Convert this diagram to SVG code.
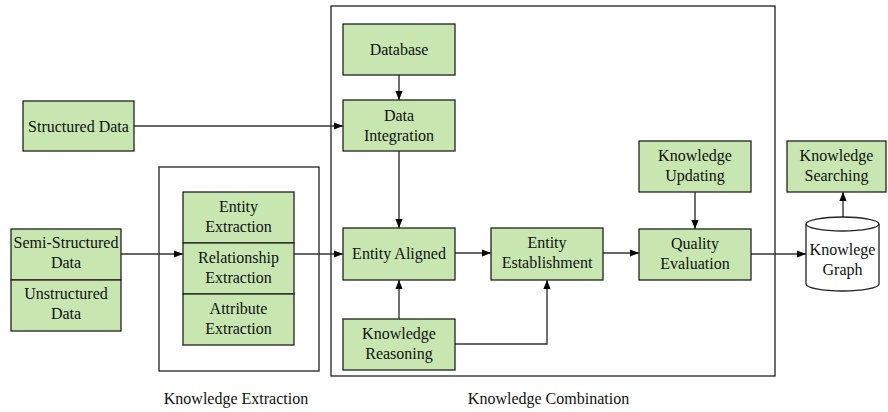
<svg xmlns="http://www.w3.org/2000/svg" width="888" height="412" viewBox="0 0 888 412">
<defs>
<marker id="ah" viewBox="0 0 10 10" refX="10" refY="5" markerWidth="9" markerHeight="9" markerUnits="userSpaceOnUse" orient="auto">
<path d="M0,1 L10,5 L0,9 Z" fill="#000"/>
</marker>
<style>
.box{fill:#c7e6b0;stroke:#222;stroke-width:1.3}
.frame{fill:none;stroke:#222;stroke-width:1.3}
.t{font-family:"Liberation Serif","Times New Roman",serif;font-size:16px;fill:#111;text-anchor:middle}
.c{fill:none;stroke:#333;stroke-width:1.4}
.a{marker-end:url(#ah)}
</style>
</defs>
<rect width="888" height="412" fill="#fff"/>

<g id="frames">
<rect id="extraction-frame" class="frame" x="159" y="167" width="160" height="204"/>
<rect id="combination-frame" class="frame" x="331" y="6" width="444" height="370"/>
</g>

<g id="connectors">
<path class="c a" d="M134,126 H343"/>
<path class="c a" d="M121,254 H183"/>
<path class="c a" d="M294,254 H343"/>
<path class="c a" d="M399,75 V100"/>
<path class="c a" d="M399,151 V228"/>
<path class="c a" d="M399,319 V280"/>
<path class="c a" d="M455,344 H547 V280"/>
<path class="c a" d="M455,253 H491"/>
<path class="c a" d="M603,253 H639"/>
<path class="c a" d="M695,192 V229"/>
<path class="c a" d="M751,254 H806"/>
<path class="c a" d="M843,217 V192"/>
</g>

<g id="structured-data">
<rect class="box" x="23" y="101" width="111" height="50"/>
<text class="t" x="78.5" y="131.5">Structured Data</text>
</g>

<g id="semi-structured-data">
<rect class="box" x="11" y="229" width="110" height="51"/>
<text class="t" x="66" y="248">Semi-Structured</text>
<text class="t" x="66" y="268">Data</text>
</g>
<g id="unstructured-data">
<rect class="box" x="11" y="280" width="110" height="51"/>
<text class="t" x="66" y="298.5">Unstructured</text>
<text class="t" x="66" y="318.5">Data</text>
</g>

<g id="entity-extraction">
<rect class="box" x="183" y="192" width="111" height="51"/>
<text class="t" x="238.5" y="212">Entity</text>
<text class="t" x="238.5" y="232">Extraction</text>
</g>
<g id="relationship-extraction">
<rect class="box" x="183" y="243" width="111" height="51"/>
<text class="t" x="238.5" y="263">Relationship</text>
<text class="t" x="238.5" y="283">Extraction</text>
</g>
<g id="attribute-extraction">
<rect class="box" x="183" y="294" width="111" height="51"/>
<text class="t" x="238.5" y="314">Attribute</text>
<text class="t" x="238.5" y="334">Extraction</text>
</g>

<g id="database">
<rect class="box" x="343" y="24" width="112" height="51"/>
<text class="t" x="399" y="54.5">Database</text>
</g>
<g id="data-integration">
<rect class="box" x="343" y="100" width="112" height="51"/>
<text class="t" x="399" y="120.5">Data</text>
<text class="t" x="399" y="140.5">Integration</text>
</g>
<g id="entity-aligned">
<rect class="box" x="343" y="228" width="112" height="52"/>
<text class="t" x="399" y="259">Entity Aligned</text>
</g>
<g id="knowledge-reasoning">
<rect class="box" x="343" y="319" width="112" height="51"/>
<text class="t" x="399" y="339">Knowledge</text>
<text class="t" x="399" y="359">Reasoning</text>
</g>
<g id="entity-establishment">
<rect class="box" x="491" y="228" width="112" height="52"/>
<text class="t" x="547" y="248">Entity</text>
<text class="t" x="547" y="268">Establishment</text>
</g>
<g id="knowledge-updating">
<rect class="box" x="639" y="141" width="112" height="51"/>
<text class="t" x="695" y="161">Knowledge</text>
<text class="t" x="695" y="181">Updating</text>
</g>
<g id="quality-evaluation">
<rect class="box" x="639" y="229" width="112" height="51"/>
<text class="t" x="695" y="249">Quality</text>
<text class="t" x="695" y="269">Evaluation</text>
</g>
<g id="knowledge-searching">
<rect class="box" x="787" y="141" width="99" height="51"/>
<text class="t" x="836.5" y="161">Knowledge</text>
<text class="t" x="836.5" y="181">Searching</text>
</g>
<g id="knowledge-graph">
<path d="M806,224 A36.5,7 0 0 1 879,224 V284 A36.5,7 0 0 1 806,284 Z" fill="#fff" stroke="#222" stroke-width="1.3"/>
<path d="M806,224 A36.5,7 0 0 0 879,224" fill="none" stroke="#222" stroke-width="1.3"/>
<text class="t" x="842.5" y="255">Knowlege</text>
<text class="t" x="842.5" y="275">Graph</text>
</g>

<g id="labels">
<text class="t" x="236" y="404">Knowledge Extraction</text>
<text class="t" x="548.5" y="404">Knowledge Combination</text>
</g>
</svg>
